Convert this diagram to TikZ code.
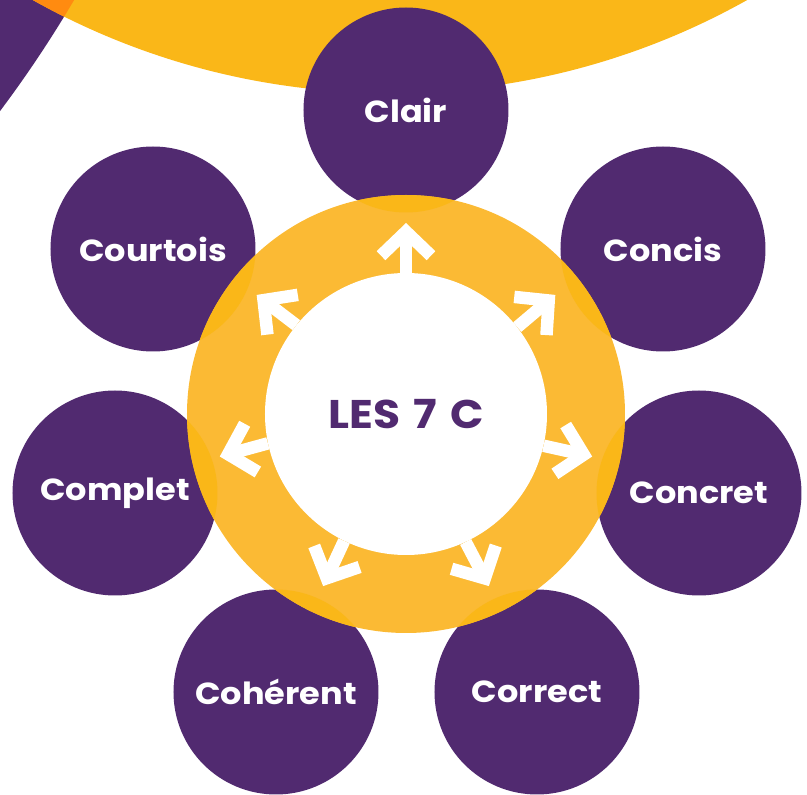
\documentclass[tikz,border=0pt]{standalone}
\usepackage{fontspec}
\setmainfont{Poppins}[FakeStretch=1.1]
\usetikzlibrary{arrows.meta}
\definecolor{cplum}{RGB}{81,42,112}
\definecolor{cgold}{RGB}{250,183,24}
\definecolor{cember}{RGB}{255,139,16}
\definecolor{cring}{RGB}{251,186,52}
\tikzset{
    bubble/.style={
        circle,fill=cplum,minimum size=205pt,inner sep=0pt,
        text=white,font=\fontsize{30.5}{30.5}\selectfont\bfseries
    },
    halo/.style={
        circle,fill=cring,minimum size=438pt,inner sep=0pt
    },
    hub/.style={
        circle,fill=white,minimum size=282pt,inner sep=0pt,
        text=cplum,font=\fontsize{40}{40}\selectfont\bfseries
    },
    spoke/.style={
        -{Straight Barb[length=24pt,width=50pt]},line width=12.5pt,draw=white
    }
}
\begin{document}
\begin{tikzpicture}[x=1pt,y=1pt]
\useasboundingbox (-406,-381) rectangle (401,414);

% discs behind, cut at the page edge
\begin{scope}
\clip (-406,-381) rectangle (401,414);
\fill[cplum] (-1369,1024) circle (1203pt);
\fill[cgold] (-16,1051.7) circle (730.8pt);
\begin{scope}
\clip (-1369,1024) circle (1203pt);
\fill[cember] (-16,1051.7) circle (730.8pt);
\end{scope}
\end{scope}

% the seven C
\node[bubble] (clair) at (0,304) {Clair};
\node[bubble] (courtois) at (-253,165) {Courtois};
\node[bubble] (concis) at (257,165) {Concis};
\node[bubble] (complet) at (-291,-79) {Complet};
\node[bubble] (concret) at (293,-79) {Concret};
\node[bubble] (coherent) at (-130,-278) {Cohérent};
\node[bubble] (correct) at (131,-278) {Correct};

\node[halo] (ring) at (0,0) {};
% deeper gold where the ring covers a bubble
\begin{scope}
\clip (ring.center) circle (219pt);
\foreach \n in {clair,courtois,concis,complet,concret,coherent,correct}
    \fill[cgold] (\n.center) circle (102.5pt);
\end{scope}
\node[hub] (core) at (0,0) {LES\hspace{4pt} 7\hspace{4pt} C};

% arrows out of the hub
\foreach \i in {0,...,6}{
    \pgfmathsetmacro\a{90+\i*360/7}
    \coordinate (tip\i) at (\a:191pt);
    \draw[spoke] (core.\a) -- (tip\i);
}

\end{tikzpicture}
\end{document}
